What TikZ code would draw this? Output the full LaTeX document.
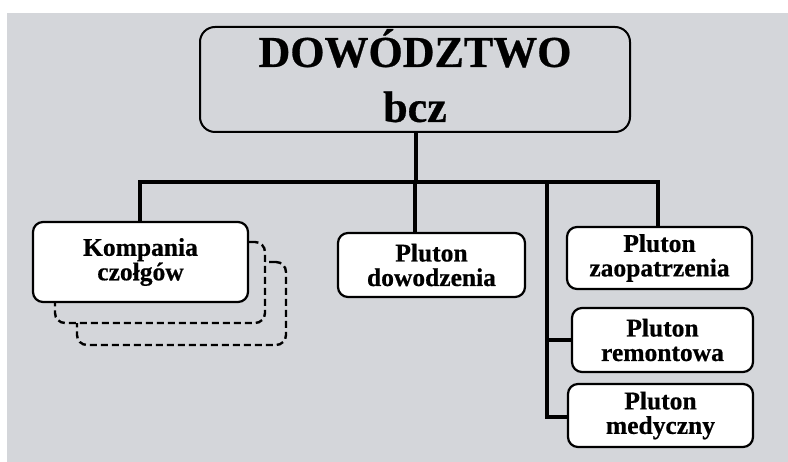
\documentclass[tikz,border=0pt]{standalone}
\usepackage{fontspec}
\setmainfont[BoldFeatures={FakeBold=0.6}]{Liberation Serif}
\definecolor{panel}{RGB}{212,214,218}
\begin{document}
\begin{tikzpicture}[x=1pt,y=-1pt,
  unit/.style={draw=black, line width=2.2pt, fill=white, rounded corners=10pt,
    align=center, inner sep=0pt,
    font=\fontsize{25.5}{24.5}\selectfont\bfseries},
  ghost/.style={draw=black, fill=panel, line width=2.4pt, dash pattern=on 7pt off 4pt,
    rounded corners=10pt, inner sep=0pt},
  head/.style={draw=black, line width=2pt, rounded corners=15pt,
    align=center, inner sep=0pt, text depth=8pt,
    font=\fontsize{44}{55}\selectfont\bfseries},
  conn/.style={line width=4.5pt, line cap=rect}]
\useasboundingbox (0,0) rectangle (788,462);
% background panel
\fill[panel] (7,13) rectangle (788,462);

% headquarters
\node[head, minimum width=430pt, minimum height=105pt] (hq) at (415,79.5)
  {DOWÓDZTWO\\bcz};

% tank company with two further companies stacked behind it
\node[ghost, minimum width=209pt, minimum height=83pt] (k3) at (181.5,303.5) {};
\node[ghost, minimum width=210pt, minimum height=81pt] (k2) at (160,282.5) {};
\node[unit, minimum width=215pt, minimum height=80pt] (komp) at (140.5,262)
  {Kompania\\czołgów};

% platoons
\node[unit, minimum width=187pt, minimum height=64pt] (dow) at (431.5,265)
  {Pluton\\dowodzenia};
\node[unit, minimum width=185pt, minimum height=62pt] (zao) at (659.5,258)
  {Pluton\\zaopatrzenia};
\node[unit, minimum width=181pt, minimum height=64pt] (rem) at (662.5,340)
  {Pluton\\remontowa};
\node[unit, minimum width=185pt, minimum height=63pt] (med) at (660.5,415.5)
  {Pluton\\medyczny};

% branch points on the distribution bar
\coordinate (barL) at (140,182);
\coordinate (barR) at (658,182);
\coordinate (jHQ) at (416,182);
\coordinate (jDow) at (415,182);
\coordinate (jSvc) at (547,182);
\coordinate (jMed) at (547,417);

% connectors
\draw[conn] (hq.south -| jHQ) -- (jHQ);
\draw[conn] (barL) -- (barR);
\draw[conn, line cap=butt] (barL) -- (barL |- komp.north);
\draw[conn, line cap=butt] (jDow) -- (jDow |- dow.north);
\draw[conn, line cap=butt] (barR) -- (barR |- zao.north);
\draw[conn] (jSvc) -- (jMed);
\draw[conn, line cap=butt] (jSvc |- rem.west) -- (rem.west);
\draw[conn, line cap=butt] (jMed) -- (jMed -| med.west);
\end{tikzpicture}
\end{document}
